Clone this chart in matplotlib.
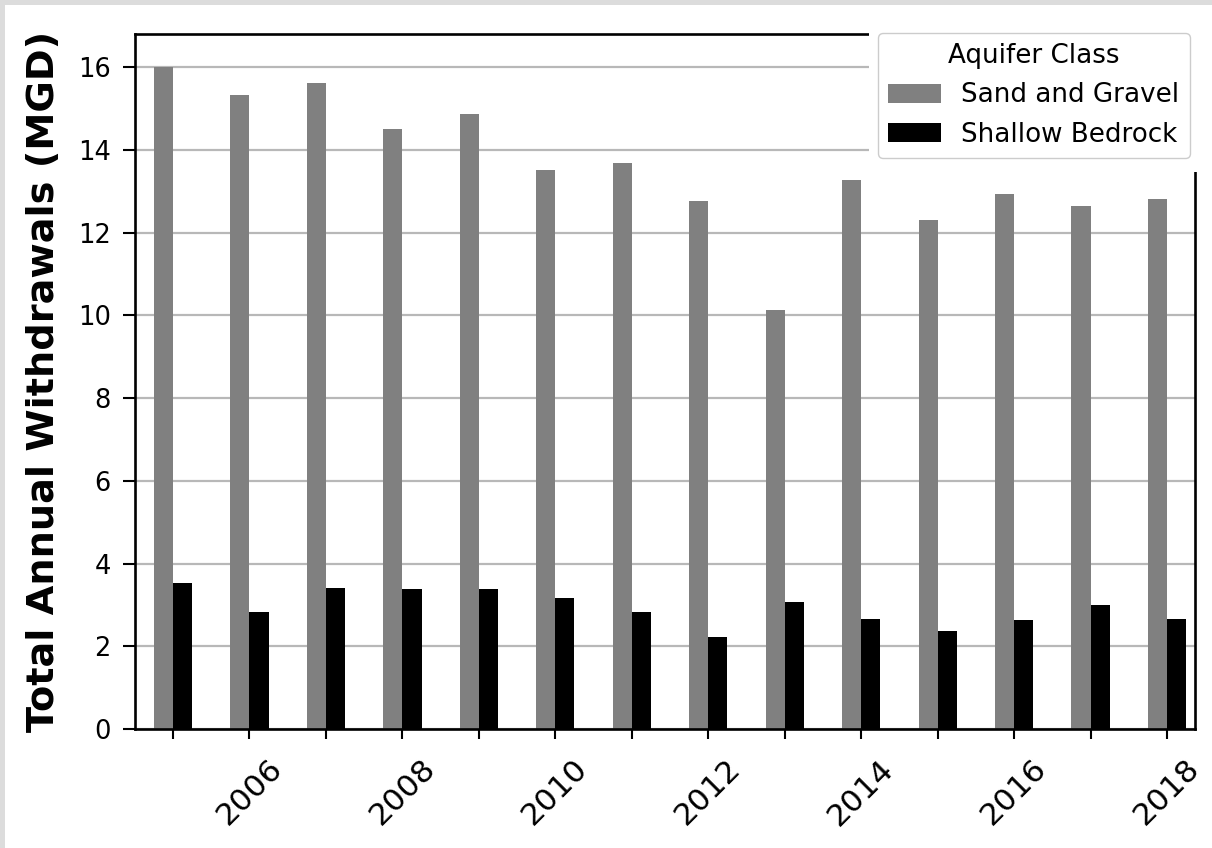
import matplotlib
matplotlib.use("Agg")
import matplotlib.pyplot as plt
from matplotlib.patches import Rectangle

years = [2005, 2006, 2007, 2008, 2009, 2010, 2011, 2012, 2013, 2014, 2015, 2016, 2017, 2018]
sand_gravel = [16.0, 15.32, 15.61, 14.50, 14.86, 13.51, 13.68, 12.77, 10.14, 13.27, 12.31, 12.93, 12.64, 12.81]
shallow_bedrock = [3.52, 2.84, 3.41, 3.38, 3.38, 3.16, 2.84, 2.23, 3.06, 2.65, 2.38, 2.64, 2.99, 2.67]
tick_labels = ["" if y % 2 else str(y) for y in years]
series_names = ["Sand and Gravel", "Shallow Bedrock"]
legend_title = "Aquifer Class"
ylabel = "Total Annual Withdrawals (MGD)"

W, H = 1212, 848
fig = plt.figure(figsize=(W / 100, H / 100), dpi=100)
fig.patch.set_facecolor("white")

ax = fig.add_axes([135 / W, 1 - 729 / H, (1195 - 135) / W, (729 - 34) / H])
width = 0.25
ax.bar([y - width / 2 for y in years], sand_gravel, width=width, color="#808080",
       label=series_names[0], zorder=2)
ax.bar([y + width / 2 for y in years], shallow_bedrock, width=width, color="black",
       label=series_names[1], zorder=2)

ax.set_ylim(0, 16.8)
ax.set_xlim(2004.503, 2018.366)
ax.set_yticks([0, 2, 4, 6, 8, 10, 12, 14, 16])
ax.set_xticks(years)
ax.set_xticklabels(tick_labels, rotation=45, ha="center")
ax.set_axisbelow(True)
ax.yaxis.grid(True, color="#b8b8b8", linewidth=1.6)
ax.xaxis.grid(False)

for s in ax.spines.values():
    s.set_linewidth(1.9)
    s.set_color("black")

ax.tick_params(axis="y", labelsize=18.5, length=8.5, width=1.5, pad=9)
ax.tick_params(axis="x", labelsize=22.5, length=7.5, width=1.5, pad=10.5)

ax.set_ylabel(ylabel, fontsize=27.5, fontweight="bold")
ax.yaxis.set_label_coords((62 - 135) / (1195 - 135), 0.5)

# white cover in the top-right corner (as in the reference)
ax.add_patch(Rectangle((869 / W, 1 - 172 / H), 1 - 869 / W, 172 / H,
                       transform=fig.transFigure, facecolor="white",
                       edgecolor="none", clip_on=False, zorder=10))

# light grey border at left and top
fig.patches.append(Rectangle((0, 0), 5 / W, 1, transform=fig.transFigure,
                             facecolor="#dcdcdc", edgecolor="none", zorder=20))
fig.patches.append(Rectangle((0, 1 - 5 / H), 1, 5 / H, transform=fig.transFigure,
                             facecolor="#dcdcdc", edgecolor="none", zorder=20))

handles, labels = ax.get_legend_handles_labels()
leg = fig.legend(handles, labels, title=legend_title, loc="upper right",
                 bbox_to_anchor=(1190 / W, 1 - 33 / H), borderaxespad=0,
                 fontsize=18.8, title_fontsize=18.8, framealpha=1)

fig.savefig("out.png", dpi=100, facecolor=fig.get_facecolor())
